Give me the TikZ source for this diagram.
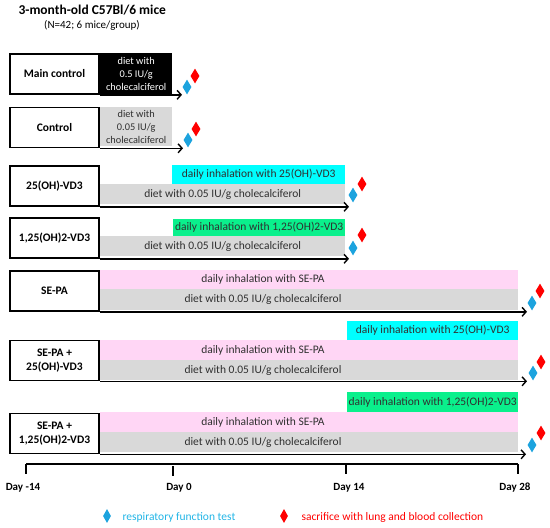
\documentclass[tikz,border=0pt]{standalone}
\usepackage{fontspec}
\setmainfont{Carlito}
\usepackage{tikz}
\usetikzlibrary{arrows.meta,shapes.geometric,positioning}
\definecolor{ink}{HTML}{000000}
\definecolor{txt}{HTML}{303030}
\definecolor{diet}{HTML}{D9D9D9}
\definecolor{vdcyan}{HTML}{00FFFF}
\definecolor{vdgreen}{HTML}{0AF08C}
\definecolor{sepa}{HTML}{FFD6F5}
\definecolor{rftblue}{HTML}{1CA3DE}
\definecolor{legblue}{HTML}{22B5E6}
\definecolor{sacred}{HTML}{FF0000}
\tikzset{
  group/.style={draw=ink, line width=1.6pt, fill=white, minimum width=89.5pt, minimum height=40pt, inner sep=1pt, align=center, font=\fontsize{11.5}{14}\selectfont\bfseries},
  bar/.style={anchor=north west, inner sep=0pt},
  lab/.style={text=txt, font=\fontsize{11.5}{13}\selectfont},
  stack/.style={align=center, font=\fontsize{10.3}{12.8}\selectfont},
  run/.style={draw=ink, line width=1.4pt, -{Straight Barb[length=4pt,width=9pt]}},
  axis/.style={draw=ink, line width=1.4pt},
  rft/.style={diamond, fill=rftblue, inner sep=0pt, minimum width=9pt, minimum height=15pt},
  sac/.style={rft, fill=sacred},
  day/.style={font=\fontsize{11}{13}\selectfont\bfseries},
}

\begin{document}
\begin{tikzpicture}[x=1pt,y=-1pt]
  \useasboundingbox (0,0) rectangle (550,528);
  \node[anchor=west, font=\fontsize{13.5}{15}\selectfont\bfseries] (title) at (15,10) {3-month-old C57Bl/6 mice};
  \node[font=\fontsize{11}{13}\selectfont] (sub) at (92,25) {(N=42; 6 mice/group)};

  % main control
  \node[bar, fill=ink, minimum width=72pt, minimum height=41pt] (b1) at (100,53) {};
  \node[stack, text=white] (t1) at (b1.center) {diet with\\0.5 IU/g\\cholecalciferol};
  \node[group] (g1) at (54.5,74) {Main control};
  \coordinate (e1) at (182,0);
  \draw[run] (g1.south east) -- (g1.south east -| e1);
  \node[rft] (r1) at (187,87) {};
  \node[sac] (s1) at (195,76) {};

  % control
  \node[bar, fill=diet, minimum width=72pt, minimum height=39pt] (b2) at (100,107) {};
  \node[stack, text=txt] (t2) at (b2.center) {diet with\\0.05 IU/g\\cholecalciferol};
  \node[group] (g2) at (54.5,127.5) {Control};
  \coordinate (e2) at (183,0);
  \draw[run] (g2.south east) -- (g2.south east -| e2);
  \node[rft] (r2) at (188,140) {};
  \node[sac] (s2) at (196,129) {};

  % 25(OH)-VD3
  \node[bar, fill=vdcyan, minimum width=173pt, minimum height=19pt] (c3) at (172,165) {};
  \node[lab] (tc3) at (c3.center) {daily inhalation with 25(OH)-VD3};
  \node[bar, fill=diet, minimum width=245pt, minimum height=20pt] (b3) at (100,184) {};
  \node[lab] (t3) at (b3.center) {diet with 0.05 IU/g cholecalciferol};
  \node[group] (g3) at (54.5,186) {25(OH)-VD3};
  \coordinate (e3) at (349,0);
  \draw[run] (g3.south east) -- (g3.south east -| e3);
  \node[rft] (r3) at (353,195) {};
  \node[sac] (s3) at (362,184) {};

  % 1,25(OH)2-VD3
  \node[bar, fill=vdgreen, minimum width=172pt, minimum height=17pt] (c4) at (173,219) {};
  \node[lab] (tc4) at (c4.center) {daily inhalation with 1,25(OH)2-VD3};
  \node[bar, fill=diet, minimum width=245pt, minimum height=20pt] (b4) at (100,236) {};
  \node[lab] (t4) at (b4.center) {diet with 0.05 IU/g cholecalciferol};
  \node[group] (g4) at (54.5,238) {1,25(OH)2-VD3};
  \coordinate (e4) at (349,0);
  \draw[run] (g4.south east) -- (g4.south east -| e4);
  \node[rft] (r4) at (353,248) {};
  \node[sac] (s4) at (362,235) {};

  % SE-PA
  \node[bar, fill=sepa, minimum width=418pt, minimum height=19pt] (p5) at (100,270) {};
  \node[lab] (tp5) at (263,279.5) {daily inhalation with SE-PA};
  \node[bar, fill=diet, minimum width=418pt, minimum height=21pt] (b5) at (100,289) {};
  \node[lab] (t5) at (263,299.5) {diet with 0.05 IU/g cholecalciferol};
  \node[group] (g5) at (54.5,291) {SE-PA};
  \coordinate (e5) at (527,0);
  \draw[run] (g5.south east) -- (g5.south east -| e5);
  \node[rft] (r5) at (532,303) {};
  \node[sac] (s5) at (540,291) {};

  % SE-PA + 25(OH)-VD3
  \node[bar, fill=vdcyan, minimum width=171pt, minimum height=19pt] (c6) at (347,321) {};
  \node[lab] (tc6) at (c6.center) {daily inhalation with 25(OH)-VD3};
  \node[bar, fill=sepa, minimum width=418pt, minimum height=20pt] (p6) at (100,340) {};
  \node[lab] (tp6) at (263,350) {daily inhalation with SE-PA};
  \node[bar, fill=diet, minimum width=418pt, minimum height=20pt] (b6) at (100,360) {};
  \node[lab] (t6) at (263,370) {diet with 0.05 IU/g cholecalciferol};
  \node[group] (g6) at (54.5,360.5) {SE-PA +\\25(OH)-VD3};
  \coordinate (e6) at (527,0);
  \draw[run] (g6.south east) -- (g6.south east -| e6);
  \node[rft] (r6) at (533,373) {};
  \node[sac] (s6) at (541,362) {};

  % SE-PA + 1,25(OH)2-VD3
  \node[bar, fill=vdgreen, minimum width=171pt, minimum height=20pt] (c7) at (347,392) {};
  \node[lab] (tc7) at (c7.center) {daily inhalation with 1,25(OH)2-VD3};
  \node[bar, fill=sepa, minimum width=418pt, minimum height=20pt] (p7) at (100,412) {};
  \node[lab] (tp7) at (263,422) {daily inhalation with SE-PA};
  \node[bar, fill=diet, minimum width=418pt, minimum height=20pt] (b7) at (100,432) {};
  \node[lab] (t7) at (263,442) {diet with 0.05 IU/g cholecalciferol};
  \node[group] (g7) at (54.5,433.5) {SE-PA +\\1,25(OH)2-VD3};
  \coordinate (e7) at (526,0);
  \draw[run] (g7.south east) -- (g7.south east -| e7);
  \node[rft] (r7) at (532,445) {};
  \node[sac] (s7) at (541,433) {};

  % time axis
  \coordinate (d1) at (26,464);
  \coordinate (d2) at (173,464);
  \coordinate (d3) at (346,464);
  \coordinate (d4) at (518,464);
  \draw[axis] (d1) -- (d4);
  \draw[axis] (d1) -- ++(0,10);
  \draw[axis] ([yshift=-2pt]d2) -- ++(0,10);
  \draw[axis] (d3) -- ++(0,10);
  \draw[axis] (d4) -- ++(0,10);
  \node[day] (l1) at (23,488) {Day -14};
  \node[day] (l2) at (179,488) {Day 0};
  \node[day] (l3) at (349,488) {Day 14};
  \node[day] (l4) at (515,488) {Day 28};

  % legend
  \node[rft, minimum width=8pt, minimum height=14pt] (k1) at (107,516) {};
  \node[lab, anchor=west, text=legblue] (k1t) at (119,517.5) {respiratory function test};
  \node[sac, minimum width=8pt, minimum height=14pt] (k2) at (284,516) {};
  \node[lab, anchor=west, text=sacred] (k2t) at (298,517.5) {sacrifice with lung and blood collection};
\end{tikzpicture}
\end{document}
